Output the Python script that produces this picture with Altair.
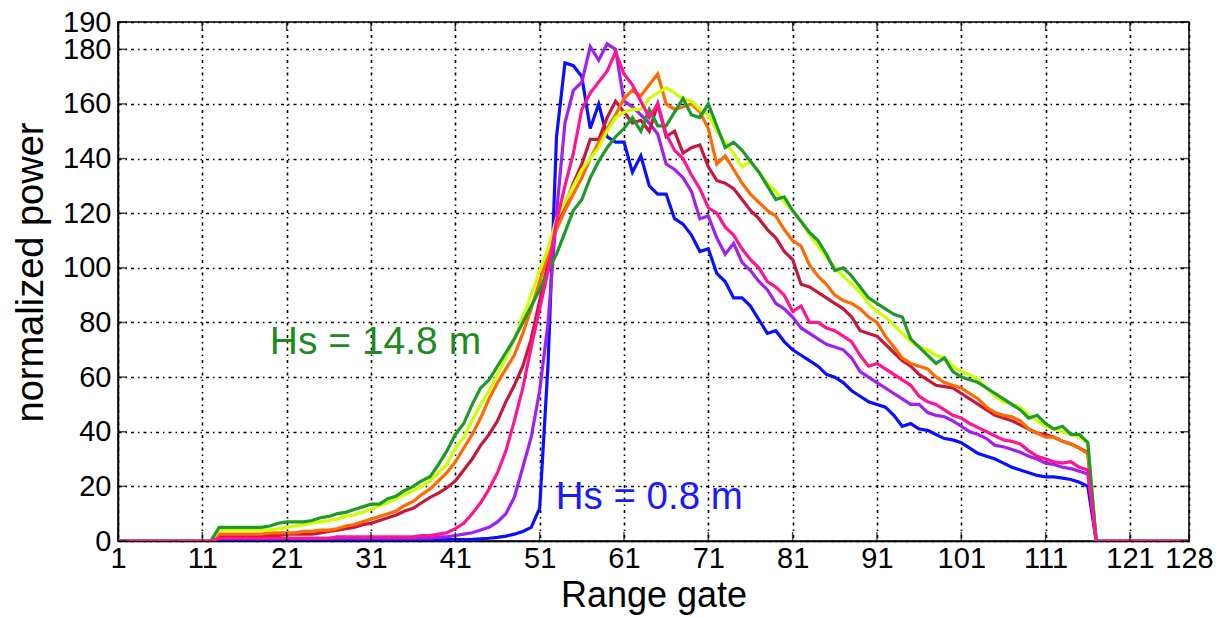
import altair as alt
import pandas as pd

# ---------------- data (range gates 13..116; gates 1-12 and 117-128 are zero) ----------------
LEAD = [0, 0, 0, 0, 0, 0, 0, 0, 0, 0, 0, 0]          # gates 1-12
TAIL = [0, 0, 0, 0, 0, 0, 0, 0, 0, 0, 0, 0]          # gates 117-128

blue = [0.3, 0.3, 0.3, 0.3, 0.3, 0.3, 0.3, 0.3, 0.3, 0.3,
        0.3, 0.3, 0.3, 0.3, 0.3, 0.3, 0.3, 0.3, 0.3, 0.3,
        0.3, 0.3, 0.3, 0.3, 0.3, 0.4, 0.4, 0.5, 0.5, 0.5,
        0.6, 0.8, 1, 1.3, 1.8, 2.5, 3.5, 5, 12, 65,
        148, 175, 174, 170, 151, 160, 148, 146, 146, 135,
        141, 130, 127, 127, 118, 116, 112, 106, 107, 98,
        95, 89, 89, 86, 81, 76, 77, 73, 70, 68,
        66, 64, 61, 60, 58, 55, 53, 51, 50, 49,
        46, 42, 43, 41, 40.5, 39, 37.5, 37, 36, 34,
        32, 31, 30, 28.5, 27, 26, 25, 24, 23.5, 23.5,
        23, 22.5, 21.5, 20]

purple = [1, 1, 1, 1, 1, 1, 1, 1, 1, 1,
          1, 1, 1, 1, 1, 1, 1, 1, 1, 1,
          1, 1, 1, 1, 1, 1, 1.5, 1.5, 2, 2.5,
          3, 4, 5, 7, 10, 16, 27, 38, 55, 80,
          120, 153, 165, 168, 181, 176, 182, 180, 161, 159,
          156, 153, 149, 138, 136, 133, 128, 118, 119, 111,
          105, 109, 102, 99, 95, 92, 87, 85, 82, 78,
          76, 74, 72, 71, 70, 67, 62, 60, 58, 56,
          54, 52, 50, 50, 47, 46, 45.5, 44, 42, 40,
          39, 37.5, 35, 34.5, 33.5, 32.5, 31, 30, 28.5, 28,
          27, 26.5, 25.5, 24.5]

pink = [1, 1, 1, 1, 1, 1, 1, 1, 1, 1,
        1, 1, 1, 1, 1.5, 1.5, 1.5, 1.5, 1.5, 1.5,
        1.5, 1.5, 1.5, 1.5, 2, 2, 2.5, 3, 4.5, 6.5,
        10, 14, 19, 25, 33, 44, 56, 71, 85, 99,
        117, 130, 142, 158, 164, 168, 172, 179, 171, 167,
        161, 155, 160, 149, 143, 140, 134, 129, 122, 120,
        115, 112, 107, 103, 100, 95, 93, 90, 84, 86,
        80, 80, 78, 77, 75, 73, 68, 64, 65, 63,
        61, 59, 57, 53, 51, 50, 48, 46, 45, 43,
        41.5, 40, 38.5, 37, 36.5, 35.5, 33, 31, 30, 29,
        28.5, 29, 27, 26]

crimson = [2, 2, 2, 2, 2, 2, 2, 2, 2.5, 2.5,
           2.5, 2.5, 3, 3.5, 4, 4.5, 5, 6, 6.5, 7.5,
           8.5, 9.5, 11, 12, 14, 16, 17.5, 19.5, 22, 26,
           30, 35, 39, 44, 51, 57, 64, 74, 88, 102,
           115, 123, 131, 138, 147, 147, 155, 161, 157, 153,
           154, 150, 160, 148, 150, 142, 144, 145, 137, 132,
           131, 129, 125, 121, 118, 114, 111, 106, 103, 94,
           93, 91, 89, 87, 85, 82, 77, 76, 75, 72,
           69, 66, 64, 61, 59, 57, 56.5, 56, 54, 52,
           50, 48, 46, 45, 44, 42.5, 41, 39.5, 39, 38,
           36.5, 35.5, 34, 32.5]

orange = [2.5, 2.5, 2.5, 2.5, 2.5, 2.5, 3, 3, 3, 3,
          3.5, 3.5, 4, 4, 4.5, 5.5, 6, 7, 8, 9,
          10, 11, 13, 14.5, 17, 19, 22, 25, 29, 34,
          39, 45, 52, 58, 63, 68, 76, 85, 95, 105,
          114, 121, 127, 133, 140, 146, 151, 156, 162, 165,
          163, 167, 171, 160, 158, 159, 160, 157, 151, 138,
          141, 136, 131, 127, 124, 121, 119, 114, 110, 108,
          101, 97, 94, 90, 88, 87, 85, 82, 80, 75,
          71, 67, 65, 64, 63, 60, 58, 57, 56, 54,
          52, 49, 47, 46, 45.5, 44, 41, 39.5, 38, 38,
          36.5, 35.5, 34, 32]

yellow = [4, 4, 4, 4, 4, 4, 4, 4.5, 5, 5.5,
          6, 6.5, 7, 7.5, 8, 9, 9.5, 10.5, 11.5, 13,
          14, 15.5, 17, 18.5, 20, 22, 25, 28, 34, 38,
          44, 50, 55, 61, 67, 74, 82, 90, 99, 107,
          118, 124, 130, 136, 140, 144, 150, 155, 157, 158,
          158, 162, 164, 166, 164, 162, 161, 158, 156, 150,
          146, 142, 137, 139, 135, 131, 128, 124, 121, 117,
          112, 108, 104, 100, 97, 94, 91, 87, 84, 82,
          79, 76, 73, 71, 70, 68, 67, 64, 62, 61,
          59, 56, 53, 51, 50, 49, 46, 44, 42, 41,
          40, 39, 38, 36]

green = [5, 5, 5, 5, 5, 5, 5.5, 6.5, 7, 7,
         7, 7.5, 8.5, 9, 10, 10.5, 11.5, 12.5, 13.5, 13.5,
         15.5, 16.5, 18.5, 20, 22, 23.5, 28, 33, 39, 43,
         50, 56, 59, 64, 69, 74, 80, 86, 92, 99,
         105, 113, 121, 125, 133, 139, 144, 148, 151, 155,
         150, 158, 152, 152, 157, 162, 156, 155, 160, 152,
         144, 146, 143, 139, 135, 130, 125, 126, 121, 117,
         113, 110, 105, 99, 100, 97, 93, 89, 87, 85,
         83, 82, 74, 71, 68, 65, 67, 62, 60, 59,
         58, 56, 54, 52, 50, 48, 45, 46, 43, 41,
         42, 39, 39, 36]

# draw order (last on top)
series = ["blue", "purple", "crimson", "orange", "yellow", "green", "pink"]
series_vals = {"blue": blue, "purple": purple, "pink": pink, "crimson": crimson,
               "orange": orange, "yellow": yellow, "green": green}
series_colors = {"blue": "#0a10ff", "purple": "#a020f0", "pink": "#ff1493",
                 "crimson": "#c8173c", "orange": "#ff6a00", "yellow": "#ccff00",
                 "green": "#1f9a2a"}

x_ticks = [1, 11, 21, 31, 41, 51, 61, 71, 81, 91, 101, 111, 121, 128]
y_ticks = [0, 20, 40, 60, 80, 100, 120, 140, 160, 180, 190]

annotations = [
    {"gate": 19.0, "value": 72.8, "label": "Hs = 14.8 m", "color": "#1f8a1f"},
    {"gate": 52.9, "value": 16.1, "label": "Hs = 0.8 m", "color": "#1a1aff"},
]

# ---------------- build tables ----------------
rows = []
for name in series:
    full = LEAD + series_vals[name] + TAIL
    for g, v in zip(range(1, 129), full):
        rows.append({"gate": g, "value": v, "series": name})
df = pd.DataFrame(rows)

FONT = "Liberation Sans"
xscale = alt.Scale(domain=[1, 128], nice=False, zero=False)
yscale = alt.Scale(domain=[0, 190], nice=False, zero=True)

GRID_DASH = [3, 4, 1.5, 4]

xaxis = alt.Axis(values=x_ticks, title="Range gate", labelFontSize=29, titleFontSize=36,
                 labelFont=FONT, titleFont=FONT, labelColor="black", titleColor="black",
                 titleFontWeight="normal", ticks=False, labelPadding=3, labelFlush=False,
                 labelOverlap=False, grid=True, gridColor="black", gridOpacity=1,
                 gridDash=GRID_DASH, gridWidth=1.6, domainColor="black", domainWidth=1.5,
                 titleY=65, titleBaseline="alphabetic", format="d")
yaxis = alt.Axis(values=y_ticks, title="normalized power", labelFontSize=29, titleFontSize=38,
                 labelFont=FONT, titleFont=FONT, labelColor="black", titleColor="black",
                 titleFontWeight="normal", ticks=False, labelPadding=7, labelOverlap=False,
                 labelFlush=False, grid=True, gridColor="black", gridOpacity=1,
                 gridDash=GRID_DASH, gridWidth=1.6, domainColor="black", domainWidth=1.5,
                 titleAngle=-90, titleX=-76, titleY=250, titleBaseline="alphabetic",
                 titleAlign="center", format="d")

X = alt.X("gate:Q", scale=xscale, axis=xaxis)
Y = alt.Y("value:Q", scale=yscale, axis=yaxis)

layers = []
for name in series:
    layers.append(
        alt.Chart(df).transform_filter(alt.datum.series == name)
        .mark_line(color=series_colors[name], strokeWidth=3.2, clip=True)
        .encode(x=X, y=Y)
    )

# inward tick marks on all four sides
left_t = pd.DataFrame({"gate": [1] * len(y_ticks), "value": y_ticks})
right_t = pd.DataFrame({"gate": [128] * len(y_ticks), "value": y_ticks})
bot_t = pd.DataFrame({"gate": x_ticks, "value": [0] * len(x_ticks)})
top_t = pd.DataFrame({"gate": x_ticks, "value": [190] * len(x_ticks)})
layers.append(alt.Chart(left_t).mark_tick(orient="horizontal", size=9, thickness=1.5,
                                          xOffset=4.5, color="black").encode(x=X, y=Y))
layers.append(alt.Chart(right_t).mark_tick(orient="horizontal", size=9, thickness=1.5,
                                           xOffset=-4.5, color="black").encode(x=X, y=Y))
layers.append(alt.Chart(bot_t).mark_tick(orient="vertical", size=9, thickness=1.5,
                                         yOffset=-4.5, color="black").encode(x=X, y=Y))
layers.append(alt.Chart(top_t).mark_tick(orient="vertical", size=9, thickness=1.5,
                                         yOffset=4.5, color="black").encode(x=X, y=Y))

font_sizes = [39, 38.5]
for a, fs in zip(annotations, font_sizes):
    layers.append(
        alt.Chart(pd.DataFrame([a])).mark_text(align="left", baseline="middle", fontSize=fs,
                                               font=FONT, color=a["color"])
        .encode(x=X, y=Y, text="label:N")
    )

chart = (
    alt.layer(*layers)
    .properties(width=1071, height=519,
                autosize=alt.AutoSizeParams(type="none"),
                padding={"left": 118, "top": 22, "right": 30, "bottom": 76},
                background="white")
    .configure_view(stroke="black", strokeWidth=1.5)
)

chart.save("out.html", embed_options={"renderer": "svg", "actions": False})
